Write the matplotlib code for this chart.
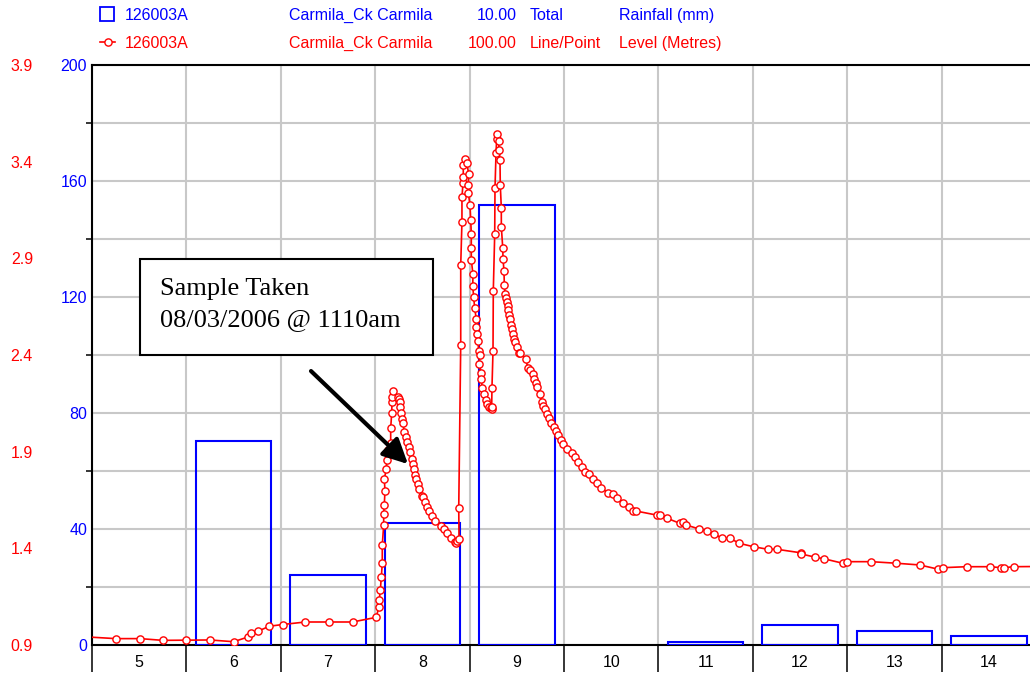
import matplotlib.pyplot as plt
from matplotlib.lines import Line2D
from matplotlib.patches import Rectangle
from matplotlib.ticker import MultipleLocator


plt.rcParams["font.family"] = ["Liberation Sans", "DejaVu Sans"]

BLUE = "#0000ff"
RED = "#ff0000"
GRID = "#c8c8c8"

# daily rainfall totals (mm)
rain_day = [5, 6, 7, 8, 9, 10, 11, 12, 13, 14]
rain_mm = [0, 70.3, 24.1, 42.0, 151.7, 0, 1.1, 6.9, 4.9, 3.2]
day_labels = ["5", "6", "7", "8", "9", "10", "11", "12", "13", "14"]

# river level readings: day of month (fractional) and level in metres
level_day = [
    4.80, 5.25, 5.51, 5.75, 6.00, 6.25, 6.50, 6.65, 6.68, 6.76, 6.88, 7.02,
    7.26, 7.51, 7.76, 8.01,
    8.040, 8.043, 8.054, 8.065, 8.075, 8.075, 8.090, 8.090, 8.096, 8.104,
    8.096, 8.118, 8.122, 8.132,
    8.164, 8.164, 8.175, 8.178, 8.178, 8.192,
    8.242, 8.255, 8.260, 8.266, 8.277, 8.287, 8.294, 8.308, 8.326, 8.340,
    8.358, 8.372, 8.387, 8.397, 8.408, 8.422, 8.435, 8.450, 8.467, 8.493,
    8.510, 8.531, 8.552, 8.573, 8.602, 8.637, 8.694, 8.729, 8.764, 8.803,
    8.845, 8.856, 8.870, 8.888,
    8.885, 8.906, 8.906, 8.919, 8.919, 8.930, 8.933, 8.933, 8.951,
    8.972, 8.990, 8.986, 8.986, 9.004, 9.012, 9.018, 9.018, 9.018, 9.036,
    9.033, 9.043, 9.054, 9.071, 9.071, 9.075, 9.089, 9.096, 9.107, 9.102,
    9.124, 9.121, 9.135, 9.153, 9.171, 9.188, 9.206, 9.224, 9.237, 9.234,
    9.237, 9.248, 9.251, 9.266, 9.269, 9.280, 9.287, 9.293,
    9.308, 9.311, 9.322, 9.325, 9.336, 9.336, 9.351, 9.354, 9.364, 9.368,
    9.375, 9.386, 9.396, 9.404, 9.410, 9.417, 9.425, 9.442, 9.452, 9.460,
    9.473, 9.484, 9.499, 9.520, 9.534,
    9.593, 9.619, 9.640, 9.668, 9.679, 9.700, 9.717, 9.746, 9.764, 9.781,
    9.799, 9.817, 9.841, 9.866, 9.894, 9.915, 9.936, 9.965, 9.993,
    10.029, 10.082, 10.117, 10.145, 10.194, 10.222, 10.268, 10.310, 10.346,
    10.392, 10.463, 10.516, 10.565, 10.628, 10.692, 10.734, 10.763, 10.982,
    11.017, 11.094, 11.229, 11.264, 11.292, 11.433, 11.511, 11.592, 11.677,
    11.758, 11.857,
    12.010, 12.161, 12.256, 12.507, 12.511, 12.655, 12.754, 12.952,
    13.001, 13.255, 13.517, 13.768, 13.965,
    14.015, 14.265, 14.513, 14.629, 14.665, 14.763, 15.010,
]
level_m = [
    0.946, 0.933, 0.933, 0.924, 0.925, 0.926, 0.917, 0.941, 0.961, 0.972,
    0.997, 1.006, 1.019, 1.019, 1.019, 1.043,
    1.098, 1.133, 1.184, 1.252, 1.323, 1.417, 1.521, 1.578, 1.624, 1.698,
    1.759, 1.809, 1.857, 1.909,
    1.946, 2.021, 2.101, 2.155, 2.181, 2.214,
    2.184, 2.171, 2.155, 2.129, 2.101, 2.069, 2.047, 2.003, 1.977, 1.951,
    1.923, 1.897, 1.864, 1.835, 1.810, 1.779, 1.760, 1.733, 1.705, 1.671,
    1.667, 1.641, 1.615, 1.593, 1.567, 1.541, 1.515, 1.498, 1.478, 1.455,
    1.434, 1.429, 1.439, 1.450,
    1.610, 2.452, 2.865, 3.089, 3.215, 3.288, 3.319, 3.383, 3.414,
    3.391, 3.336, 3.279, 3.239, 3.176, 3.098, 3.026, 2.953, 2.891, 2.817,
    2.757, 2.701, 2.641, 2.586, 2.546, 2.507, 2.474, 2.421, 2.398, 2.355,
    2.305, 2.277, 2.231, 2.198, 2.167, 2.145, 2.132, 2.124, 2.122, 2.132,
    2.231, 2.422, 2.731, 3.026, 3.262, 3.446, 3.519, 3.543,
    3.508, 3.460, 3.408, 3.279, 3.162, 3.063, 2.955, 2.898, 2.836, 2.763,
    2.717, 2.696, 2.676, 2.653, 2.633, 2.607, 2.584, 2.557, 2.533, 2.507,
    2.484, 2.469, 2.443, 2.409, 2.409,
    2.378, 2.333, 2.322, 2.300, 2.274, 2.253, 2.233, 2.198, 2.158, 2.136,
    2.119, 2.095, 2.072, 2.050, 2.026, 2.007, 1.986, 1.960, 1.938,
    1.914, 1.891, 1.871, 1.848, 1.819, 1.796, 1.783, 1.757, 1.736,
    1.714, 1.688, 1.679, 1.659, 1.633, 1.615, 1.595, 1.593, 1.572,
    1.572, 1.555, 1.529, 1.538, 1.521, 1.500, 1.491, 1.474, 1.452,
    1.452, 1.426,
    1.408, 1.395, 1.395, 1.377, 1.371, 1.355, 1.346, 1.323,
    1.331, 1.331, 1.323, 1.314, 1.292,
    1.300, 1.305, 1.305, 1.300, 1.300, 1.305, 1.306,
]
level_ticks = [0.9, 1.4, 1.9, 2.4, 2.9, 3.4, 3.9]

# legend rows: site, station, scale, kind, quantity
legend_rows = [
    ("126003A", "Carmila_Ck Carmila", "10.00", "Total", "Rainfall (mm)"),
    ("126003A", "Carmila_Ck Carmila", "100.00", "Line/Point", "Level (Metres)"),
]

FS = 11.5
W, H = 1030, 675
fig = plt.figure(figsize=(W / 100, H / 100), dpi=100)
ax = fig.add_axes([92 / W, 30 / H, 944 / W, 580 / H])

# rainfall bars
bar_x = [d + 0.1 for d, v in zip(rain_day, rain_mm) if v > 0]
bar_h = [v for v in rain_mm if v > 0]
ax.bar(bar_x, bar_h, width=0.8, align="edge", fill=False,
       edgecolor=BLUE, linewidth=1.5, zorder=3)

ax.set_xlim(5, 15)
ax.set_ylim(0, 200)
ax.set_axisbelow(True)

# x axis: day boundaries as ticks, labels centred on days
ax.set_xticks(range(5, 16))
ax.set_xticklabels([])
ax.set_xticks([d + 0.5 for d in rain_day], minor=True)
ax.set_xticklabels(day_labels, minor=True)
ax.tick_params(axis="x", which="major", length=19.5, width=1.1,
               color="black")
ax.tick_params(axis="x", which="minor", length=0, pad=7, labelsize=FS)

ax.yaxis.set_major_locator(MultipleLocator(40))
ax.yaxis.set_minor_locator(MultipleLocator(20))
ax.tick_params(axis="y", which="major", length=0, pad=3.5,
               labelcolor=BLUE, labelsize=FS)
ax.tick_params(axis="y", which="minor", length=4, width=1.1)

ax.grid(True, axis="x", which="major", color=GRID, linewidth=1.5)
ax.grid(True, axis="y", which="both", color=GRID, linewidth=1.5)

for side in ["left", "bottom", "top"]:
    ax.spines[side].set_linewidth(1.5)
    ax.spines[side].set_color("black")
ax.spines["right"].set_visible(False)

# level on second scale, labels on the far left
ax2 = ax.twinx()
ax2.set_ylim(0.9, 3.9)
ax2.set_yticks(level_ticks)
ax2.set_yticklabels([f"{v:.1f}" for v in level_ticks])
ax2.yaxis.tick_left()
ax2.tick_params(axis="y", length=0, pad=42.5, labelcolor=RED, labelsize=FS)
for side in ax2.spines:
    ax2.spines[side].set_visible(False)

ax2.plot(level_day, level_m, color=RED, linewidth=1.2, marker="o",
         markersize=5.2, markerfacecolor="white", markeredgecolor=RED,
         markeredgewidth=1.0, zorder=4)

# sample note and arrow
ax2.add_patch(Rectangle((5.508, 2.400), 3.104, 0.497, facecolor="white",
                        edgecolor="black", linewidth=1.5, zorder=5))
serif = ["Liberation Serif", "DejaVu Serif"]
ax2.text(5.72, 2.710, "Sample Taken", family=serif, fontsize=19,
         va="baseline", zorder=6)
ax2.text(5.72, 2.550, "08/03/2006 @ 1110am", family=serif, fontsize=19,
         va="baseline", zorder=6)
ax2.annotate("", xy=(8.347, 1.836), xytext=(7.320, 2.317),
             arrowprops=dict(arrowstyle="-|>,head_length=0.6,head_width=0.3",
                             color="black", linewidth=3, mutation_scale=25,
                             shrinkA=0, shrinkB=0),
             zorder=6)

# header legend
colors = [BLUE, RED]
baselines = [1 - 20 / H, 1 - 47.7 / H]
for row, color, yb in zip(legend_rows, colors, baselines):
    fig.text(125 / W, yb, row[0], color=color, fontsize=FS, va="baseline")
    fig.text(289 / W, yb, row[1], color=color, fontsize=FS, va="baseline")
    fig.text(517 / W, yb, row[2], color=color, fontsize=FS, va="baseline",
             ha="right")
    fig.text(530 / W, yb, row[3], color=color, fontsize=FS, va="baseline")
    fig.text(619 / W, yb, row[4], color=color, fontsize=FS, va="baseline")

fig.add_artist(Rectangle((100 / W, 1 - 21 / H), 14 / W, 14 / H,
                         transform=fig.transFigure, fill=False,
                         edgecolor=BLUE, linewidth=1.3))
fig.add_artist(Line2D([100 / W, 115 / W], [1 - 42 / H, 1 - 42 / H],
                      transform=fig.transFigure, color=RED, linewidth=1.2))
fig.add_artist(Line2D([107.5 / W], [1 - 42 / H], transform=fig.transFigure,
                      marker="o", markersize=5.2, markerfacecolor="white",
                      markeredgecolor=RED, markeredgewidth=1.0))

fig.savefig("out.png", dpi=100)
